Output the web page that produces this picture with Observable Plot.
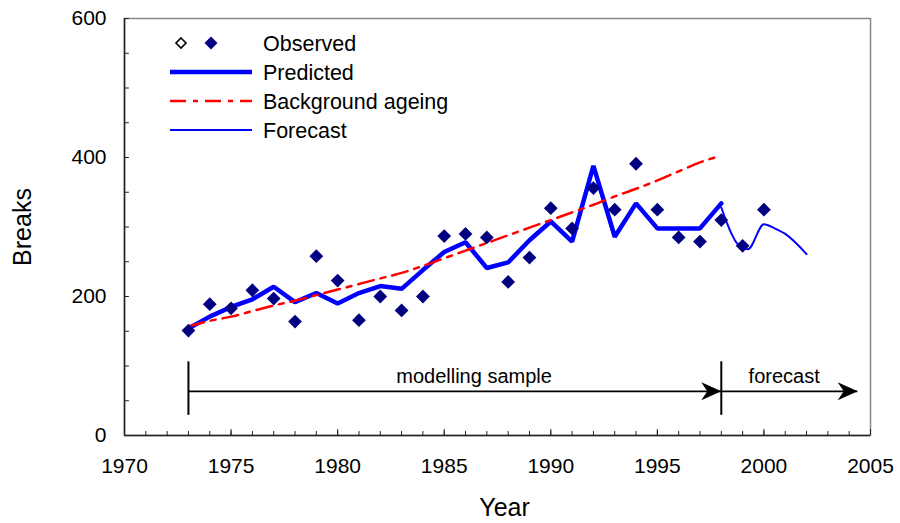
<!DOCTYPE html>
<html><head><meta charset="utf-8">
<script src="https://cdn.jsdelivr.net/npm/d3@7"></script>
<script src="https://cdn.jsdelivr.net/npm/@observablehq/plot@0.6"></script>
<style>
body{margin:0;background:#fff;font-family:"Liberation Sans",Arial,sans-serif;}
#wrap{position:relative;width:900px;height:523px;}
#legend{position:absolute;left:0;top:0;}
</style></head><body><div id="wrap"></div>
<script>
// ---- data ----
const obsYears = [1973,1974,1975,1976,1977,1978,1979,1980,1981,1982,1983,1984,1985,1986,1987,1988,1989,1990,1991,1992,1993,1994,1995,1996,1997,1998,1999,2000];
const observed = [151,189,183,209,197,164,258,223,166,200,180,200,287,290,285,221,256,327,298,356,325,391,325,285,279,310,273,325];

const predYears = [1973,1974,1975,1976,1977,1978,1979,1980,1981,1982,1983,1984,1985,1986,1987,1988,1989,1990,1991,1992,1993,1994,1995,1996,1997,1998];
const predicted = [154,171,185,196,214,192,205,190,205,215,211,238,264,278,241,249,281,308,279,388,286,334,298,298,298,334];

const ageYears = [1973,1974,1975,1976,1977,1978,1979,1980,1981,1982,1983,1984,1985,1986,1987,1988,1989,1990,1991,1992,1993,1994,1995,1996,1997,1997.8];
const ageing = [157,165,171,179,187,194,202,210,218,226,234,244,255,266,277,288,299,310,321,332,344,355,367,380,393,401];

const foreYears = [1998,1998.25,1998.5,1998.75,1999.25,2000,2000.5,2001,2002];
const forecast = [328,307,289,276,268,304,298,290,261];

const xTicks = [1970,1975,1980,1985,1990,1995,2000,2005];
const yTicks = [0,200,400,600];

const periodLabels = ["modelling sample","forecast"];
const periodStart = [1973,1998];
const periodEnd = [1998,2004.4];
const periodLabelX = [1986.4,2000.95];

const legendLabels = ["Observed","Predicted","Background ageing","Forecast"];

// ---- tables ----
const obs = obsYears.map((x,i)=>({x, y:observed[i]}));
const pred = predYears.map((x,i)=>({x, y:predicted[i]}));
const age = ageYears.map((x,i)=>({x, y:ageing[i]}));
const fore = foreYears.map((x,i)=>({x, y:forecast[i]}));
const periods = periodLabels.map((t,i)=>({text:t, x1:periodStart[i], x2:periodEnd[i], lx:periodLabelX[i]}));

const arrowHead = {draw(ctx){ctx.moveTo(0,0);ctx.lineTo(-20,-9);ctx.lineTo(-14,0);ctx.lineTo(-20,9);ctx.closePath();}};
const arrowY = 63.5, barLo = 29, barHi = 106, labelY = 75;

const font = "Liberation Sans, Arial, sans-serif";
const chart = Plot.plot({
  width:900, height:523,
  marginLeft:124, marginRight:30, marginTop:18, marginBottom:88,
  x:{domain:[1970,2005]},
  y:{domain:[0,600]},
  style:{fontFamily:font, fontSize:"21px", color:"#000", background:"#fff"},
  marks:[
    Plot.frame({stroke:"#888", strokeWidth:1.5}),
    Plot.ruleX([1970],{stroke:"#222", strokeWidth:1.5}),
    Plot.ruleY([0],{stroke:"#222", strokeWidth:1.5}),
    Plot.ruleX(d3.range(1971,2005),{x:d=>d, y1:0, y2:5.8, stroke:"#222"}),
    Plot.ruleX(xTicks,{x:d=>d, y1:0, y2:8.6, stroke:"#222"}),
    Plot.ruleY(d3.range(0,601,50),{y:d=>d, x1:1970, x2:1970.23, stroke:"#222"}),
    Plot.axisX(xTicks,{tickSize:0, tickPadding:23, tickFormat:d=>String(d), fontSize:21, label:null}),
    Plot.axisY(yTicks,{tickSize:0, tickPadding:18, fontSize:21, label:null}),
    Plot.text(["Year"],{frameAnchor:"bottom", lineAnchor:"middle", textAnchor:"middle", dy:72, dx:7, fontSize:25}),
    Plot.text(["Breaks"],{frameAnchor:"left", lineAnchor:"middle", textAnchor:"middle", rotate:-90, dx:-102, fontSize:25}),
    // annotations
    Plot.ruleY(periods,{y:arrowY, x1:"x1", x2:"x2", stroke:"#000", strokeWidth:1.6}),
    Plot.ruleX(periodStart,{x:d=>d, y1:barLo, y2:barHi, stroke:"#000", strokeWidth:2}),
    Plot.dot(periods,{x:"x2", y:arrowY, symbol:arrowHead, fill:"#000", stroke:"none", r:1}),
    Plot.text(periods,{x:"lx", y:labelY, text:"text", lineAnchor:"bottom", fontSize:20}),
    // series
    Plot.line(pred,{x:"x", y:"y", stroke:"#0000ff", strokeWidth:4.5, strokeLinejoin:"miter"}),
    Plot.line(fore,{x:"x", y:"y", stroke:"#0000ff", strokeWidth:2, curve:"monotone-x"}),
    Plot.line(age,{x:"x", y:"y", stroke:"#ff0000", strokeWidth:2.5, strokeDasharray:"16,7,5,7", curve:"monotone-x"}),
    Plot.dot(obs,{x:"x", y:"y", symbol:"diamond2", r:6.2, fill:"#000080", stroke:"none"})
  ]
});
const wrap = document.getElementById("wrap");
wrap.appendChild(chart);

// ---- legend overlay ----
const ns = "http://www.w3.org/2000/svg";
const lg = document.createElementNS(ns,"svg");
lg.setAttribute("id","legend");
lg.setAttribute("width","600"); lg.setAttribute("height","160");
const rows = [43,72,101,130];
const styles = [
  null,
  {stroke:"#0000ff", w:4.5, dash:null},
  {stroke:"#ff0000", w:2.5, dash:"16,7,5,7"},
  {stroke:"#0000ff", w:2, dash:null}
];
legendLabels.forEach((lab,i)=>{
  const y = rows[i];
  if(i===0){
    const d1 = document.createElementNS(ns,"path");
    d1.setAttribute("d",`M181,${y-5}L186,${y}L181,${y+5}L176,${y}Z`);
    d1.setAttribute("fill","#fff"); d1.setAttribute("stroke","#000"); d1.setAttribute("stroke-width","1.6");
    lg.appendChild(d1);
    const d2 = document.createElementNS(ns,"path");
    d2.setAttribute("d",`M211,${y-6.5}L217.5,${y}L211,${y+6.5}L204.5,${y}Z`);
    d2.setAttribute("fill","#000080");
    lg.appendChild(d2);
  } else {
    const s = styles[i];
    const l = document.createElementNS(ns,"line");
    l.setAttribute("x1",170); l.setAttribute("x2",252);
    l.setAttribute("y1",y); l.setAttribute("y2",y);
    l.setAttribute("stroke",s.stroke); l.setAttribute("stroke-width",s.w);
    if(s.dash) l.setAttribute("stroke-dasharray",s.dash);
    lg.appendChild(l);
  }
  const t = document.createElementNS(ns,"text");
  t.setAttribute("x",263); t.setAttribute("y",y);
  t.setAttribute("dy","0.36em");
  t.setAttribute("font-family",font);
  t.setAttribute("font-size","21.5");
  t.textContent = lab;
  lg.appendChild(t);
});
wrap.appendChild(lg);
</script>
</body></html>
